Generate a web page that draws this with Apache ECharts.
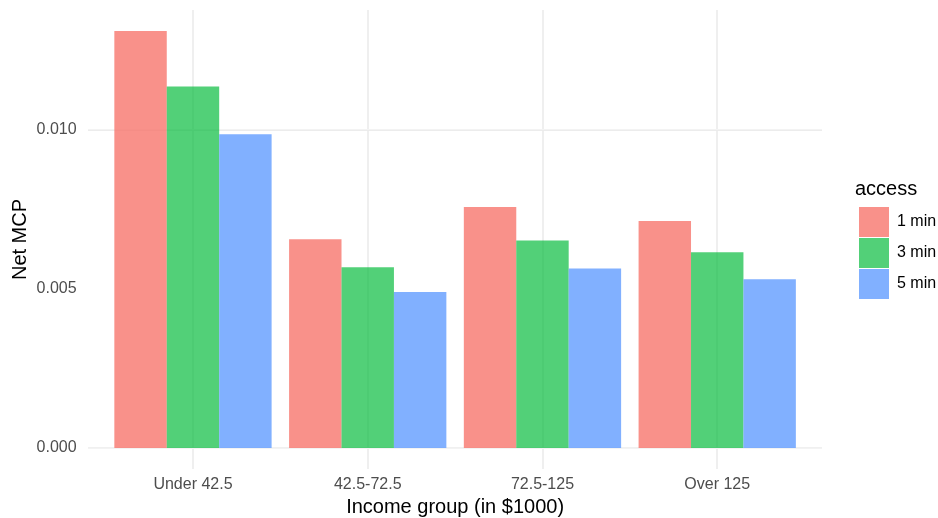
<!DOCTYPE html>
<html>
<head>
<meta charset="utf-8">
<script src="https://cdn.jsdelivr.net/npm/echarts@6/dist/echarts.min.js"></script>
<style>
html,body{margin:0;padding:0;background:#fff;}
#chart{width:938px;height:518px;}
</style>
</head>
<body>
<div id="chart"></div>
<script>
var categories = ['Under 42.5', '42.5-72.5', '72.5-125', 'Over 125'];
var seriesNames = ['1 min', '3 min', '5 min'];
var min1 = [0.01310, 0.00656, 0.00757, 0.00713];
var min3 = [0.01136, 0.00568, 0.00652, 0.00615];
var min5 = [0.00986, 0.00490, 0.00564, 0.00530];
var yTicks = [0, 0.005, 0.010];
var yMinorTicks = [0.0025, 0.0075, 0.0125];
var xGridPositions = [1, 2, 3, 4];

var colors = ['rgba(248,118,109,0.8)', 'rgba(0,186,56,0.68)', 'rgba(97,156,255,0.8)'];
var font = 'Liberation Sans, Arial, Helvetica, sans-serif';
var yMax = 0.01376, yExp = 0.000655;

var chart = echarts.init(document.getElementById('chart'), null, {renderer: 'canvas'});

var gridLines = [];
xGridPositions.forEach(function (v) {
  gridLines.push({xAxis: v, lineStyle: {color: '#EBEBEB', width: 1.6, type: 'solid'}});
});
yTicks.forEach(function (v) {
  gridLines.push({yAxis: v, lineStyle: {color: '#EBEBEB', width: 1.6, type: 'solid'}});
});
yMinorTicks.forEach(function (v) {
  gridLines.push({yAxis: v, lineStyle: {color: '#F3F3F3', width: 1.2, type: 'solid'}});
});

function barSeries(name, data, i) {
  return {
    name: name, type: 'bar', xAxisIndex: 1, yAxisIndex: 1,
    data: data, barGap: '0%', barCategoryGap: '10%',
    itemStyle: {color: colors[i]}, z: 3, animation: false,
    emphasis: {disabled: true}
  };
}

chart.setOption({
  animation: false,
  backgroundColor: '#ffffff',
  title: {
    text: 'access', left: 850, top: 174,
    textStyle: {fontFamily: font, fontSize: 20, fontWeight: 'normal', color: '#000'}
  },
  legend: {
    orient: 'vertical', left: 854, top: 202,
    itemWidth: 30, itemHeight: 30, itemGap: 1,
    icon: 'rect', data: seriesNames,
    textStyle: {fontFamily: font, fontSize: 16, color: '#000', padding: [0, 0, 0, 3]},
    selectedMode: false
  },
  grid: [
    {left: 88, right: 116, top: 10, bottom: 49, containLabel: false, outerBoundsMode: 'none'},
    {left: 105.6, right: 133.4, top: 10, bottom: 70, containLabel: false, outerBoundsMode: 'none'}
  ],
  xAxis: [
    {type: 'value', gridIndex: 0, min: 0.4, max: 4.6, show: false},
    {type: 'category', gridIndex: 1, data: categories,
      axisLine: {show: false}, axisTick: {show: false}, splitLine: {show: false},
      axisLabel: {margin: 29, fontFamily: font, fontSize: 16, color: '#4D4D4D'},
      name: 'Income group (in $1000)', nameLocation: 'middle', nameGap: 49,
      nameTextStyle: {fontFamily: font, fontSize: 20, color: '#000'}}
  ],
  yAxis: [
    {type: 'value', gridIndex: 0, min: -yExp, max: yMax,
      axisLine: {show: false}, axisTick: {show: false}, splitLine: {show: false},
      axisLabel: {show: false},
      name: 'Net MCP', nameLocation: 'middle', nameGap: 58,
      nameTextStyle: {fontFamily: font, fontSize: 20, color: '#000'}},
    {type: 'value', gridIndex: 1, min: 0, max: yMax, interval: 0.005,
      axisLine: {show: false}, axisTick: {show: false}, splitLine: {show: false},
      axisLabel: {margin: 29, fontFamily: font, fontSize: 16, color: '#4D4D4D',
        formatter: function (v) {
          var ok = yTicks.some(function (t) { return Math.abs(t - v) < 1e-9; });
          return ok ? v.toFixed(3) : '';
        }}}
  ],
  series: [
    {
      type: 'scatter', xAxisIndex: 0, yAxisIndex: 0, data: [], z: 1,
      silent: true, animation: false,
      markLine: {silent: true, symbol: 'none', animation: false, label: {show: false},
        z: 1, zlevel: 0,
        emphasis: {disabled: true}, data: gridLines}
    },
    barSeries(seriesNames[0], min1, 0),
    barSeries(seriesNames[1], min3, 1),
    barSeries(seriesNames[2], min5, 2)
  ]
});
</script>
</body>
</html>
